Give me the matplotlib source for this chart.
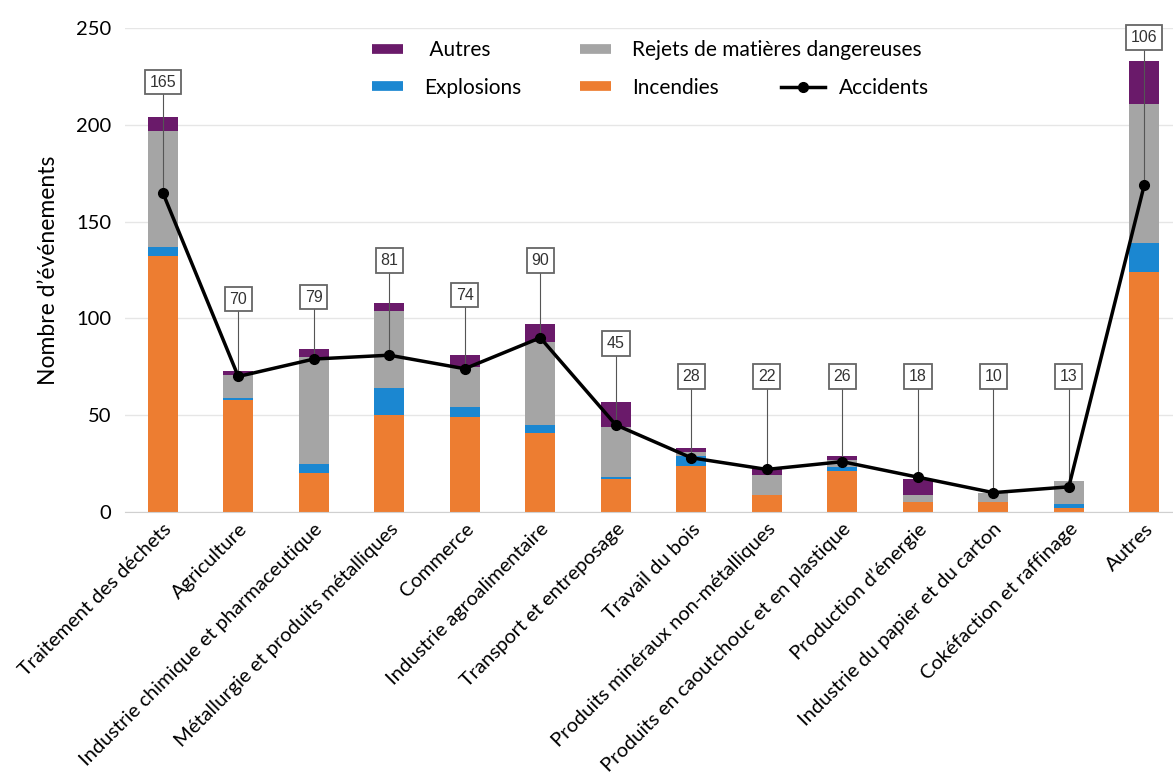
import numpy as np
import matplotlib
matplotlib.use("Agg")
import matplotlib.pyplot as plt
from matplotlib.lines import Line2D

plt.rcParams['font.family'] = ['Lato', 'DejaVu Sans']

# data
secteurs = ['Traitement des déchets', 'Agriculture', 'Industrie chimique et pharmaceutique',
            'Métallurgie et produits métalliques', 'Commerce', 'Industrie agroalimentaire',
            'Transport et entreposage', 'Travail du bois', 'Produits minéraux non-métalliques',
            'Produits en caoutchouc et en plastique', 'Production d’énergie',
            'Industrie du papier et du carton', 'Cokéfaction et raffinage', 'Autres']
incendies = [132, 58, 20, 50, 49, 41, 17, 24, 9, 21, 5, 5, 2, 124]
explosions = [5, 1, 5, 14, 5, 4, 1, 5, 0, 2, 0, 0, 2, 15]
rejets = [60, 12, 55, 40, 21, 43, 26, 2, 10, 4, 4, 5, 12, 72]
autres = [7, 2, 4, 4, 6, 9, 13, 2, 3, 2, 8, 0, 0, 22]
accidents = [165, 70, 79, 81, 74, 90, 45, 28, 22, 26, 18, 10, 13, 169]
labels_acc = ['165', '70', '79', '81', '74', '90', '45', '28', '22', '26', '18', '10', '13', '106']
label_y = [222, 110, 111, 130, 112, 130, 87, 70, 70, 70, 70, 70, 70, 245]

c_inc = '#ED7D31'
c_exp = '#1B87D1'
c_rej = '#A5A5A5'
c_aut = '#6A1A6A'

fig = plt.figure(figsize=(11.73, 7.83), dpi=100)
ax = fig.add_axes([125 / 1173, 1 - 512 / 783, 1 - 125 / 1173, (512 - 28) / 783])

x = np.arange(len(secteurs))
w = 0.4
b1 = np.array(incendies)
b2 = b1 + np.array(explosions)
b3 = b2 + np.array(rejets)
ax.bar(x, incendies, w, color=c_inc, zorder=2)
ax.bar(x, explosions, w, bottom=b1, color=c_exp, zorder=2)
ax.bar(x, rejets, w, bottom=b2, color=c_rej, zorder=2)
ax.bar(x, autres, w, bottom=b3, color=c_aut, zorder=2)

# leader lines and boxed labels
for i in range(len(x)):
    ax.plot([x[i], x[i]], [accidents[i], label_y[i]], color='#555555', lw=0.8, zorder=3)
    ax.text(x[i], label_y[i], labels_acc[i], ha='center', va='center', fontsize=11.5,
            family='Liberation Sans', color='#333333', zorder=5,
            bbox=dict(boxstyle='square,pad=0.3', fc='white', ec='#666666', lw=1.3))

ax.plot(x, accidents, color='black', lw=2.5, marker='o', ms=7, zorder=4)

ax.set_xlim(-0.5, 13.38)
ax.set_ylim(0, 250)
ax.set_yticks([0, 50, 100, 150, 200, 250])
ax.grid(axis='y', color='#E6E6E6', lw=1, zorder=0)
ax.set_axisbelow(True)
for s in ['top', 'right', 'left']:
    ax.spines[s].set_visible(False)
ax.spines['bottom'].set_color('#D0D0D0')
ax.tick_params(axis='both', length=0, labelsize=14.5)
ax.tick_params(axis='y', pad=10)
ax.set_xticks(x)
ax.set_xticklabels(secteurs, rotation=45, ha='right', rotation_mode='anchor', fontsize=14.5)
ax.tick_params(axis='x', pad=6)
ax.set_ylabel('Nombre d’événements', fontsize=16.5, labelpad=12)

def bar_handle(c):
    return Line2D([], [], color=c, lw=7, solid_capstyle='butt')

leg1 = ax.legend([bar_handle(c_aut), bar_handle(c_exp), bar_handle(c_rej), bar_handle(c_inc)],
                 [' Autres', 'Explosions', 'Rejets de matières dangereuses', 'Incendies'],
                 ncol=2, frameon=False, fontsize=15, loc='upper left',
                 bbox_to_anchor=(372 / 1173, 1 - 40 / 783), bbox_transform=fig.transFigure,
                 handlelength=1.5, handletextpad=1.0, columnspacing=2.8,
                 labelspacing=0.85, borderpad=0, borderaxespad=0)
ax.add_artist(leg1)
ax.legend([Line2D([], [], color='black', lw=2.5, marker='o', ms=7)], ['Accidents'],
          frameon=False, fontsize=15, loc='upper left',
          bbox_to_anchor=(781 / 1173, 1 - 78 / 783), bbox_transform=fig.transFigure,
          handlelength=2.1, handletextpad=0.7, borderpad=0, borderaxespad=0)

fig.savefig('out.png', dpi=100)
